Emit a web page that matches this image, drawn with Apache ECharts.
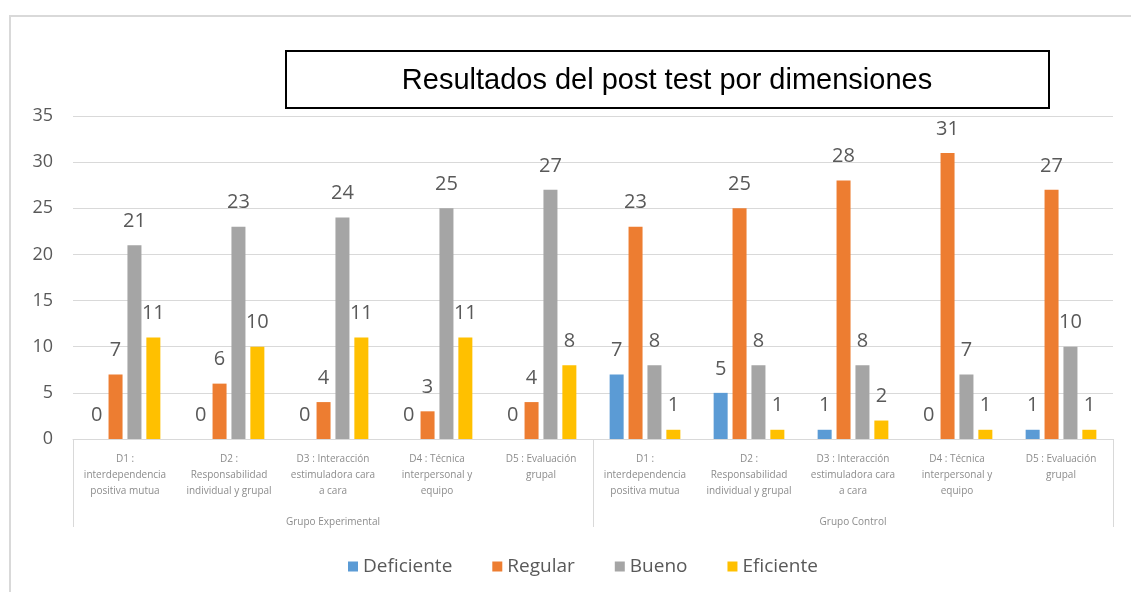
<!DOCTYPE html>
<html>
<head>
<meta charset="utf-8">
</head>
<body style="margin:0">
    <div id='main' style="width:1131px;height:592px;"></div>
</body>

<script src="https://cdn.jsdelivr.net/npm/echarts@6/dist/echarts.min.js"></script>
<script>

// categorias del eje (nivel 1 y nivel 2)
var dimensiones = [
  'D1 :\ninterdependencia\npositiva mutua',
  'D2 :\nResponsabilidad\nindividual y grupal',
  'D3 : Interacción\nestimuladora cara\na cara',
  'D4 : Técnica\ninterpersonal y\nequipo',
  'D5 : Evaluación\ngrupal'
];
var categorias = dimensiones.concat(dimensiones);
var grupos = ['Grupo Experimental', 'Grupo Control'];

// valores por nivel
var deficiente = [0, 0, 0, 0, 0, 7, 5, 1, 0, 1];
var regular    = [7, 6, 4, 3, 4, 23, 25, 28, 31, 27];
var bueno      = [21, 23, 24, 25, 27, 8, 8, 8, 7, 10];
var eficiente  = [11, 10, 11, 11, 8, 1, 1, 2, 1, 1];

var yTicks = [0, 5, 10, 15, 20, 25, 30, 35];

var chartDom = document.getElementById('main');
var myChart = echarts.init(chartDom);
var option;

var font = '"Open Sans", sans-serif';

function serie(name, data, color) {
  return {
    name: name,
    type: 'bar',
    xAxisIndex: 0,
    data: data,
    itemStyle: { color: color },
    barGap: '35%',
    barCategoryGap: '32%',
    label: {
      show: true,
      position: 'top',
      distance: 14,
      color: '#595959',
      fontFamily: font,
      fontSize: 20
    }
  };
}

option = {
  animation: false,
  backgroundColor: '#fff',
  graphic: [
    {
      type: 'rect',
      shape: { x: 10, y: 16, width: 1200, height: 700 },
      style: { fill: 'none', stroke: '#d9d9d9', lineWidth: 2 },
      silent: true
    },
    {
      type: 'rect',
      shape: { x: 286, y: 51, width: 763, height: 57 },
      style: { fill: '#fff', stroke: '#000', lineWidth: 2 },
      z: 10
    },
    {
      type: 'text',
      x: 667,
      y: 81,
      z: 11,
      style: {
        text: 'Resultados del post test por dimensiones',
        fill: '#000',
        font: '29px "Liberation Sans", Arial, sans-serif',
        textAlign: 'center',
        textVerticalAlign: 'middle'
      }
    }
  ],
  legend: {
    top: 552,
    left: 343,
    itemWidth: 10,
    itemHeight: 10,
    itemGap: 40,
    icon: 'rect',
    textStyle: { color: '#595959', fontFamily: font, fontSize: 19 },
    data: ['Deficiente', 'Regular', 'Bueno', 'Eficiente']
  },
  grid: {
    left: 73,
    right: 18,
    top: 116,
    bottom: 153
  },
  xAxis: [
    {
      type: 'category',
      data: categorias,
      axisLine: { lineStyle: { color: '#d9d9d9' } },
      axisTick: { show: false },
      axisLabel: {
        interval: 0,
        margin: 12,
        color: '#8c8c8c',
        fontFamily: font,
        fontSize: 10,
        lineHeight: 16
      }
    },
    {
      type: 'category',
      data: grupos,
      position: 'bottom',
      axisLine: { show: false },
      axisTick: {
        show: true,
        length: 88,
        lineStyle: { color: '#d9d9d9' }
      },
      axisLabel: {
        margin: 78,
        color: '#8c8c8c',
        fontFamily: font,
        fontSize: 10
      }
    }
  ],
  yAxis: {
    type: 'value',
    min: yTicks[0],
    max: yTicks[yTicks.length - 1],
    interval: 5,
    axisLine: { show: false },
    axisTick: { show: false },
    splitLine: { lineStyle: { color: '#d9d9d9' } },
    axisLabel: {
      margin: 20,
      color: '#595959',
      fontFamily: font,
      fontSize: 18
    }
  },
  series: [
    serie('Deficiente', deficiente, '#5B9BD5'),
    serie('Regular', regular, '#ED7D31'),
    serie('Bueno', bueno, '#A5A5A5'),
    serie('Eficiente', eficiente, '#FFC000')
  ]
};

option && myChart.setOption(option);

</script>
</html>
